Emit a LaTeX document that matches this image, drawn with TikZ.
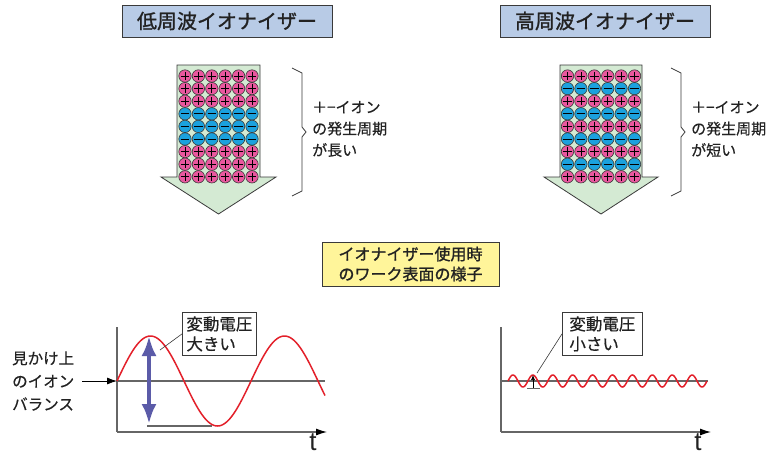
\documentclass[tikz,border=0pt]{standalone}
\usepackage{fontspec}
\newfontfamily\jp[FakeBold=0.5]{Noto Sans CJK JP}
\newfontfamily\jpb[FakeBold=1.3]{Noto Sans CJK JP}
\newfontfamily\lsans{Liberation Sans}
\usetikzlibrary{arrows.meta}
\definecolor{titlebg}{HTML}{B8CBE6}
\definecolor{yellowbg}{HTML}{FFF59A}
\definecolor{arrowbg}{HTML}{D4EAD3}
\definecolor{ionpink}{HTML}{E9579E}
\definecolor{ioncyan}{HTML}{1BA1DD}
\definecolor{edgegray}{HTML}{3A3A3A}
\definecolor{axisgray}{HTML}{666666}
\definecolor{wavered}{HTML}{E3202A}
\definecolor{slateblue}{HTML}{5B5BA8}
\definecolor{textcol}{HTML}{222222}
\tikzset{
  titlebox/.style={draw=edgegray, line width=0.9pt, fill=titlebg, minimum width=210pt, minimum height=32pt, inner sep=0pt,
    text=textcol, font=\jpb\fontsize{20pt}{24pt}\selectfont},
  yellowbox/.style={draw=edgegray, line width=0.9pt, fill=yellowbg, minimum width=177pt, minimum height=44pt, inner sep=0pt,
    align=left, text=textcol, font=\jpb\fontsize{16pt}{20pt}\selectfont},
  sidetext/.style={align=left, inner sep=0pt, text=textcol, font=\jp\fontsize{15pt}{21.5pt}\selectfont},
  lbltext/.style={align=left, inner sep=0pt, text=textcol, font=\jp\fontsize{15.5pt}{23pt}\selectfont},
  callout/.style={draw=edgegray, line width=0.8pt, fill=white, align=left, inner xsep=4pt, inner ysep=0pt,
    minimum height=43pt, text=textcol, font=\jp\fontsize{16.5pt}{20pt}\selectfont},
  bigarrow/.style={draw=edgegray, line width=0.8pt, fill=arrowbg},
  ionedge/.style={draw=edgegray, line width=0.6pt},
  sign/.style={draw=black, line width=0.8pt},
  bracepath/.style={draw=edgegray, line width=0.8pt},
  axisline/.style={draw=axisgray, line width=1.1pt},
  wave/.style={draw=wavered, line width=1.5pt},
  leader/.style={draw=edgegray, line width=0.6pt},
  tlabel/.style={inner sep=0pt, text=textcol, font=\lsans\fontsize{26pt}{26pt}\selectfont},
}
\newcommand{\ionplus}[2]{%
  \path[ionedge, fill=ionpink] (#1,#2) circle[radius=6.2];
  \draw[sign] (#1-4.2,#2) -- (#1+4.2,#2) (#1,#2-4.2) -- (#1,#2+4.2);}
\newcommand{\ionminus}[2]{%
  \path[ionedge, fill=ioncyan] (#1,#2) circle[radius=6.2];
  \draw[sign] (#1-4.2,#2) -- (#1+4.2,#2);}
\begin{document}
\begin{tikzpicture}[x=1pt,y=-1pt,font=\jp]
\useasboundingbox (0,0) rectangle (776,456);
\fill[white] (0,0) rectangle (776,456);

% titles
\node[titlebox] (t1) at (227,21) {低周波イオナイザー};
\node[titlebox] (t2) at (605,21) {高周波イオナイザー};

% big arrows
\path[bigarrow] (177,65) -- (260,65) -- (260,177) -- (276,177) -- (218.5,214) -- (161,177) -- (177,177) -- cycle;
\path[bigarrow] (560,65) -- (642,65) -- (642,177) -- (658,177) -- (601,214) -- (544,177) -- (560,177) -- cycle;

% ions left: rows 1-3 and 7-9 plus, 4-6 minus
\foreach \r in {1,...,9}{
  \foreach \c in {1,...,6}{
    \pgfmathsetmacro{\xx}{218.5+(\c-3.5)*13.4}
    \pgfmathsetmacro{\yy}{76+(\r-1)*12.6}
    \ifnum\r<4 \ionplus{\xx}{\yy}\else\ifnum\r>6 \ionplus{\xx}{\yy}\else\ionminus{\xx}{\yy}\fi\fi
  }
}
% ions right: alternating rows
\foreach \r in {1,...,9}{
  \foreach \c in {1,...,6}{
    \pgfmathsetmacro{\xx}{601+(\c-3.5)*13.4}
    \pgfmathsetmacro{\yy}{76+(\r-1)*12.6}
    \ifodd\r \ionplus{\xx}{\yy}\else\ionminus{\xx}{\yy}\fi
  }
}

% braces
\path[bracepath] (292,68) -- (302,73) -- (302,127) -- (306,132) -- (302,137) -- (302,191) -- (292,196);
\path[bracepath] (671,68) -- (681,73) -- (681,127) -- (685,132) -- (681,137) -- (681,191) -- (671,196);

% side texts
\node[sidetext, anchor=west] (s1) at (312,129) {＋−イオン\\の発生周期\\が長い};
\node[sidetext, anchor=west] (s2) at (691,129) {＋−イオン\\の発生周期\\が短い};

% middle yellow box
\node[yellowbox] (yb) at (410.5,264) {イオナイザー使用時\\のワーク表面の様子};

% ---------- left graph ----------
\coordinate (o1) at (117,432);
\coordinate (y1) at (117,327);
\coordinate (x1) at (327,432);
\coordinate (b1) at (117,381);
\coordinate (b1e) at (325,381);
\draw[axisline] (y1) -- (o1);
\draw[axisline, -{Latex[length=11pt,width=7pt,color=black]}] (o1) -- (x1);
\node[tlabel] (tl1) at (313,442) {t};
\draw[axisline] (b1) -- (b1e);
\coordinate (g1a) at (147,426);
\coordinate (g1b) at (212,426);
\draw[axisline] (g1a) -- (g1b);
\draw[wave] plot[domain=117:325, samples=160, smooth] (\x,{381-45*sin((\x-117)/134*360)});
\coordinate (ba1) at (149,336);
\coordinate (ba2) at (149,424);
\draw[draw=slateblue, line width=4pt, {Latex[length=20pt,width=15pt,color=slateblue]}-{Latex[length=20pt,width=15pt,color=slateblue]}] (ba2) -- (ba1);

\node[callout, anchor=north west, minimum width=73pt] (c1) at (182,312) {変動電圧\\大きい};
\coordinate (p1) at (160,350);
\draw[leader] (c1.west) -- (p1);

\node[lbltext, anchor=west] (lb) at (12,381) {見かけ上\\のイオン\\バランス};
\coordinate (lbs) at (82,381);
\draw[line width=0.8pt, -{Latex[length=10pt,width=7pt]}] (lbs) -- (b1);

% ---------- right graph ----------
\coordinate (o2) at (501,432);
\coordinate (y2) at (501,327);
\coordinate (x2) at (711,432);
\coordinate (b2) at (501,381);
\coordinate (b2e) at (708,381);
\draw[axisline] (y2) -- (o2);
\draw[axisline, -{Latex[length=11pt,width=7pt,color=black]}] (o2) -- (x2);
\node[tlabel] (tl2) at (698,442) {t};
\draw[axisline] (b2) -- (b2e);
\draw[wave] plot[domain=508:707, samples=300, smooth] (\x,{381-6*sin((\x-508)/19.9*360)});
\coordinate (sa1) at (533,388);
\coordinate (sa2) at (533,375);
\draw[line width=0.6pt, -{Latex[length=5pt,width=4pt]}] (sa1) -- (sa2);
\coordinate (sb1) at (527,388);
\coordinate (sb2) at (540,388);
\draw[axisline, line width=0.9pt] (sb1) -- (sb2);

\node[callout, anchor=north west, minimum width=80pt] (c2) at (562,312) {変動電圧\\小さい};
\coordinate (p2) at (537,373);
\draw[leader] (c2.west) -- (p2);
\end{tikzpicture}
\end{document}
